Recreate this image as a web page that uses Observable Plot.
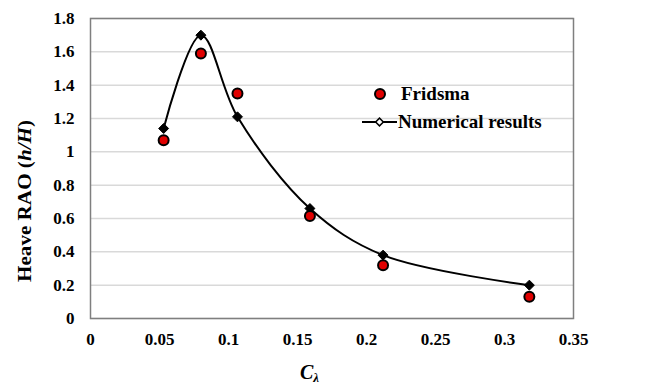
<!DOCTYPE html>
<html>
<head>
<meta charset="utf-8">
<script src="https://cdn.jsdelivr.net/npm/d3@7"></script>
<script src="https://cdn.jsdelivr.net/npm/@observablehq/plot@0.6"></script>
<style>
  html, body { margin: 0; padding: 0; background: #fff; }
  #chart svg { display: block; }
</style>
</head>
<body>
<div id="chart"></div>
<script>
// Data
const cLambda = [0.053, 0.080, 0.1065, 0.159, 0.212, 0.318];
const numerical = [1.14, 1.70, 1.21, 0.66, 0.38, 0.20];
const fridsma = [1.07, 1.59, 1.35, 0.615, 0.32, 0.13];
const xTicks = [0, 0.05, 0.1, 0.15, 0.2, 0.25, 0.3, 0.35];
const yTicks = [0, 0.2, 0.4, 0.6, 0.8, 1, 1.2, 1.4, 1.6, 1.8];
const seriesNames = ["Fridsma", "Numerical results"];
const yTitle = ["Heave RAO (", "h/H", ")"];

const numData = cLambda.map((x, i) => ({x, y: numerical[i]}));
const friData = cLambda.map((x, i) => ({x, y: fridsma[i]}));

const W = 651, H = 388;
const mL = 90, mR = 78, mT = 18, mB = 70;
const serif = "'Liberation Serif', 'Times New Roman', serif";

const chart = Plot.plot({
  width: W,
  height: H,
  marginLeft: mL,
  marginRight: mR,
  marginTop: mT,
  marginBottom: mB,
  style: {fontFamily: serif, fontSize: "17px", fontWeight: "bold", color: "#000", background: "#fff"},
  x: {domain: [0, 0.35], ticks: xTicks, tickFormat: d => String(+d.toFixed(2)), label: null},
  y: {domain: [0, 1.8], ticks: yTicks, tickFormat: d => String(+d.toFixed(1)), label: null},
  marks: [
    Plot.gridY(yTicks, {stroke: "#d9d9d9", strokeOpacity: 1, strokeWidth: 1.5}),
    Plot.axisX(xTicks, {tickSize: 0, tickPadding: 14, fontSize: 17, fontWeight: "bold", tickFormat: d => String(+d.toFixed(2)), label: null}),
    Plot.axisY(yTicks, {tickSize: 0, tickPadding: 16, fontSize: 17, fontWeight: "bold", tickFormat: d => String(+d.toFixed(1)), label: null}),
    Plot.frame({stroke: "#7f7f7f", strokeWidth: 1.5}),
    Plot.line(numData, {x: "x", y: "y", curve: "catmull-rom", stroke: "#000", strokeWidth: 2}),
    Plot.dot(numData, {x: "x", y: "y", symbol: "diamond2", r: 4.5, fill: "#000", stroke: "#000", strokeWidth: 1}),
    Plot.dot(friData, {x: "x", y: "y", r: 5, fill: "#e00000", stroke: "#000", strokeWidth: 2})
  ]
});

document.getElementById("chart").appendChild(chart);

const svg = d3.select(chart);

// Y axis title
const yt = svg.append("text")
  .attr("transform", "translate(31,201) rotate(-90)")
  .attr("text-anchor", "middle")
  .attr("font-family", serif)
  .attr("font-size", 19)
  .attr("font-weight", "bold")
  .attr("fill", "#000")
  .attr("textLength", 162)
  .attr("lengthAdjust", "spacingAndGlyphs");
yt.append("tspan").text(yTitle[0]);
yt.append("tspan").attr("font-style", "italic").text(yTitle[1]);
yt.append("tspan").text(yTitle[2]);

// X axis title C_λ
const xt = svg.append("text")
  .attr("x", 300)
  .attr("y", 379)
  .attr("text-anchor", "start")
  .attr("font-family", serif)
  .attr("font-size", 20)
  .attr("font-weight", "bold")
  .attr("font-style", "italic")
  .attr("fill", "#000");
xt.append("tspan").text("C");
xt.append("tspan").attr("font-size", 13).attr("dy", 3).text("λ");

// Legend
const lg = svg.append("g").attr("font-family", serif).attr("font-size", 19).attr("font-weight", "bold").attr("fill", "#000").attr("text-anchor", "start");
lg.append("circle").attr("cx", 380).attr("cy", 94).attr("r", 5).attr("fill", "#e00000").attr("stroke", "#000").attr("stroke-width", 2);
lg.append("text").attr("x", 401).attr("y", 100).text(seriesNames[0]);
lg.append("line").attr("x1", 362).attr("x2", 397).attr("y1", 122).attr("y2", 122).attr("stroke", "#000").attr("stroke-width", 2);
lg.append("path").attr("d", d3.symbol(d3.symbolSquare, 30)()).attr("transform", "translate(379.5,122) rotate(45)").attr("fill", "#fff").attr("stroke", "#000").attr("stroke-width", 1.5);
lg.append("text").attr("x", 398).attr("y", 128).text(seriesNames[1]);
</script>
</body>
</html>
